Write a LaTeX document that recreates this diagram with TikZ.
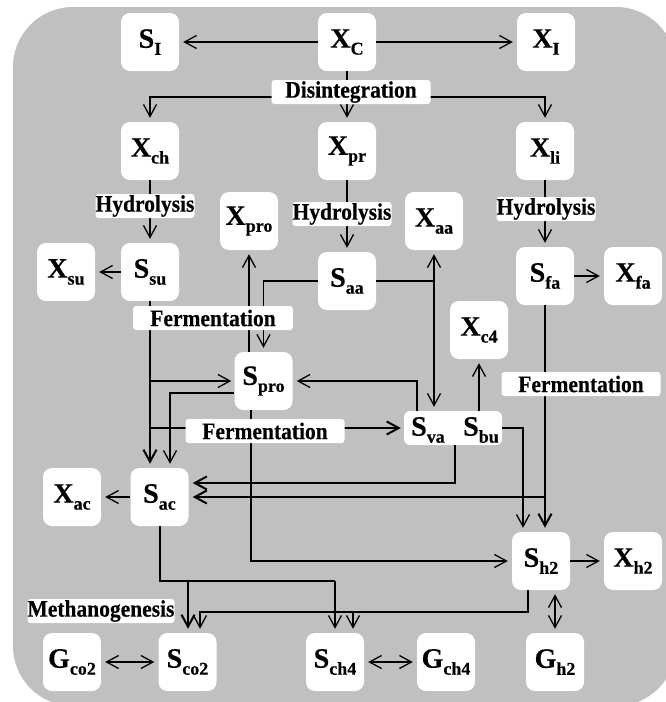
\documentclass[tikz,border=0pt]{standalone}
\usepackage{fontspec}
\setmainfont{Liberation Serif}[BoldFeatures={FakeBold=0.4}]
\usetikzlibrary{arrows.meta}

\definecolor{bggray}{RGB}{192,192,192}

% state variable: large letter with a lowered subscript
\newcommand{\vsym}[2]{{\fontsize{28}{28}\selectfont #1}{\fontsize{18}{18}\selectfont\raisebox{-7pt}{#2}}}
% process name, slightly tall letters
\newcommand{\procname}[1]{\scalebox{1}[1.1]{#1}}

\tikzset{
  box/.style={fill=white, rounded corners=9pt, minimum width=58pt, minimum height=58pt, inner sep=0pt},
  textonly/.style={inner sep=0pt},
  lab/.style={fill=white, rounded corners=3pt, inner sep=0pt, minimum height=24pt,
              font=\bfseries\fontsize{21.5}{21.5}\selectfont},
  ln/.style={line width=1.3pt},
  tk/.style={line width=2pt},
  arr/.style={-{Straight Barb[length=12pt,width=13pt]}, shorten >=4pt},
  darr/.style={{Straight Barb[length=12pt,width=13pt]}-{Straight Barb[length=12pt,width=13pt]}, shorten >=4pt, shorten <=4pt}
}

\begin{document}
\begin{tikzpicture}[x=1pt, y=-1pt, font=\bfseries]
\useasboundingbox (0,0) rectangle (666,702);
\fill[bggray, rounded corners=60pt] (13,7) rectangle (676,706);

% ---- state boxes ----
\node[box] (SI)   at (150,42)  {\vsym{S}{I}};
\node[box] (XC)   at (347,42)  {\vsym{X}{C}};
\node[box] (XI)   at (546,42)  {\vsym{X}{I}};
\node[box] (Xch)  at (150,151) {\vsym{X}{ch}};
\node[box] (Xpr)  at (347,151) {\vsym{X}{pr}};
\node[box] (Xli)  at (545,151) {\vsym{X}{li}};
\node[box] (Xpro) at (249,221) {\vsym{X}{pro}};
\node[box] (Xaa)  at (434,221) {\vsym{X}{aa}};
\node[box] (Xsu)  at (66,272)  {\vsym{X}{su}};
\node[box] (Ssu)  at (150,272) {\vsym{S}{su}};
\node[box] (Saa)  at (347,281) {\vsym{S}{aa}};
\node[box] (Sfa)  at (545,276) {\vsym{S}{fa}};
\node[box] (Xfa)  at (633,276) {\vsym{X}{fa}};
\node[box] (Xc4)  at (479,330) {\vsym{X}{c4}};
\node[box] (Spro) at (263.5,381) {\vsym{S}{pro}};
\node[box, minimum width=98pt, minimum height=34pt, rounded corners=6pt] (vabu) at (453,428) {};
\node[textonly] (Sva) at (428,430) {\vsym{S}{va}};
\node[textonly] (Sbu) at (481,430) {\vsym{S}{bu}};
\node[box] (Xac)  at (72,497)  {\vsym{X}{ac}};
\node[box] (Sac)  at (159.5,497) {\vsym{S}{ac}};
\node[box] (Sh2)  at (541,561) {\vsym{S}{h2}};
\node[box] (Xh2)  at (633,561) {\vsym{X}{h2}};
\node[box] (Gco2) at (72,662)  {\vsym{G}{co2}};
\node[box] (Sco2) at (187.5,662) {\vsym{S}{co2}};
\node[box] (Sch4) at (335,662) {\vsym{S}{ch4}};
\node[box] (Gch4) at (446,662) {\vsym{G}{ch4}};
\node[box] (Gh2)  at (555,662) {\vsym{G}{h2}};

% ---- disintegration ----
\draw[ln,arr] (XC) -- (SI);
\draw[ln,arr] (XC) -- (XI);
\coordinate (dis) at (347,97);
\draw[ln] (XC.south) -- (dis);
\draw[ln,arr] (dis) -| (Xch.north);
\draw[ln,arr] (dis) -- (Xpr.north);
\draw[ln,arr] (dis) -| (Xli.north);

% ---- hydrolysis ----
\draw[ln,arr] (Xch) -- (Ssu);
\draw[ln,arr] (Xpr) -- (Saa);
\draw[ln,arr] (Xli) -- (Sfa);
\draw[ln,arr] (Ssu) -- (Xsu);
\draw[ln,arr] (Sfa) -- (Xfa);

% ---- sugars ----
\draw[tk,arr] (Ssu.south) -- (Ssu.south |- Sac.north);
\draw[ln,arr,shorten >=3pt] (Ssu.south |- Spro.west) -- (Spro.west);
\draw[tk,arr,shorten >=3pt] (Ssu.south |- vabu.west) -- (vabu.west);

% ---- propionate ----
\draw[ln,arr] ([yshift=-12pt]Spro.west) -| ([xshift=10.5pt]Sac.north);
\draw[ln,arr] ([xshift=-14.5pt]Spro.north) -- ([xshift=-14.5pt]Spro.north |- Xpro.south);
\draw[ln,arr] ([xshift=-12.5pt]Spro.south) |- (Sh2.west);

% ---- amino acids ----
\draw[ln,arr] (Saa.west) -| (Spro.north);
\coordinate (aaj) at (Xaa.south |- Saa.east);
\draw[ln] (Saa.east) -- (aaj);
\draw[ln,arr] (aaj) -- (Xaa.south);
\draw[ln,arr] (aaj) -- (aaj |- vabu.north);

% ---- valerate / butyrate ----
\draw[ln,arr] ([xshift=-36pt]vabu.north) |- (Spro.east);
\draw[ln,arr] (Xc4.south |- vabu.north) -- (Xc4.south);
\draw[tk,arr] ([xshift=2pt]vabu.south) |- ([yshift=14pt]Sac.east);
\draw[ln,arr] (vabu.east) -| ([xshift=-18pt]Sh2.north);

% ---- fatty acids ----
\draw[tk,arr] (Sfa.south) -- ([xshift=4pt]Sh2.north);
\draw[tk,arr] (Sfa.south |- Sac.east) -- (Sac.east);

% ---- acetate, hydrogen ----
\draw[ln,arr] (Sac) -- (Xac);
\draw[ln,arr] (Sh2) -- (Xh2);
\draw[ln,darr] ([xshift=14pt]Sh2.south) -- (Gh2.north);

% ---- methanogenesis ----
\coordinate (acA) at (188,581);
\coordinate (acB) at (335,581);
\draw[tk] (Sac.south) |- (acB);
\draw[tk,arr] (acA) -- (acA |- Sco2.north);
\draw[ln,arr] (acB) -- (acB |- Sch4.north);
\coordinate (hA) at (200,612);
\coordinate (hB) at (353,612);
\draw[ln,arr] ([xshift=-13pt]Sh2.south) |- (hA) -- (hA |- Sco2.north);
\draw[ln,arr] (hB) -- (hB |- Sch4.north);

\draw[ln,darr] (Gco2) -- (Sco2);
\draw[ln,darr] (Sch4) -- (Gch4);

% ---- process labels ----
\node[lab, minimum width=159pt] (Dis)  at (351,92)  {\procname{Disintegration}};
\node[lab, minimum width=99pt]  (Hyd1) at (145,206) {\procname{Hydrolysis}};
\node[lab, minimum width=99pt]  (Hyd2) at (342,214) {\procname{Hydrolysis}};
\node[lab, minimum width=99pt]  (Hyd3) at (546,209) {\procname{Hydrolysis}};
\node[lab, minimum width=160pt] (Fer1) at (213,318) {\procname{Fermentation}};
\node[lab, minimum width=159pt] (Fer2) at (265,431) {\procname{Fermentation}};
\node[lab, minimum width=159pt] (Fer3) at (581,384) {\procname{Fermentation}};
\node[lab, minimum width=147pt] (Meth) at (101,611) {\procname{Methanogenesis}};
\end{tikzpicture}
\end{document}
